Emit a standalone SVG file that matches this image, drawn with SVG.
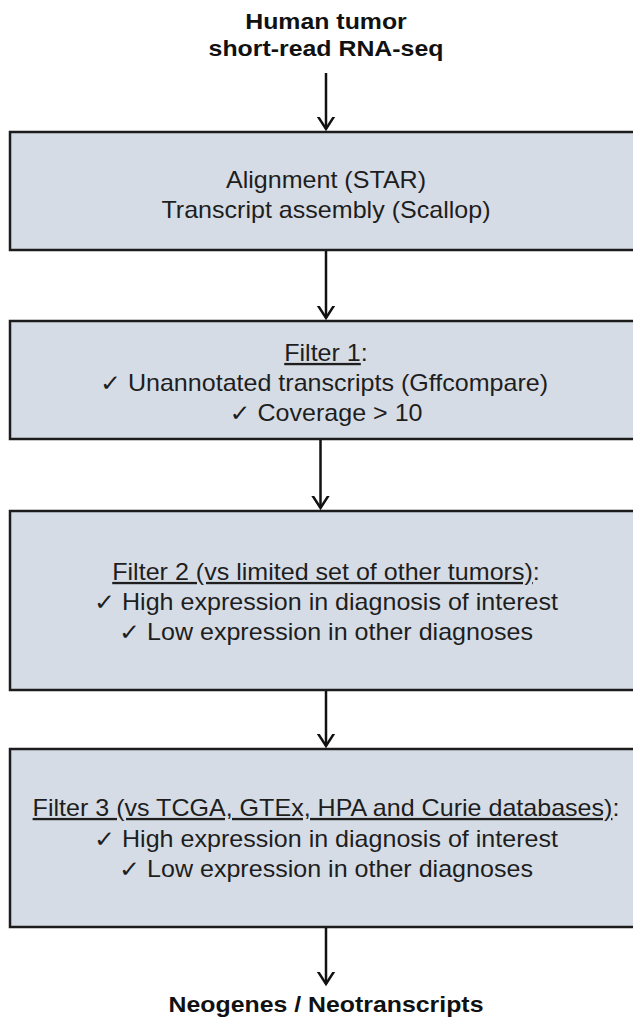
<svg xmlns="http://www.w3.org/2000/svg" width="633" height="1019" viewBox="0 0 633 1019">
<style>
.box{fill:#d6dce5;stroke:#1c1c1c;stroke-width:2.5}
.t{font-family:"Liberation Sans","DejaVu Sans",Arial,sans-serif;font-size:23px;fill:#1e1e1e;text-anchor:middle}
.b{font-family:"Liberation Sans",Arial,sans-serif;font-size:22px;font-weight:bold;fill:#111;text-anchor:middle}
.u{text-decoration:underline}
.c{stroke:#111;stroke-width:2.5;fill:none}
</style>
<defs>
<marker id="ah" markerUnits="userSpaceOnUse" markerWidth="24" markerHeight="24" refX="12" refY="12" orient="auto" viewBox="0 0 24 24">
<path d="M-2,3 L12,12 L-2,21" fill="none" stroke="#111" stroke-width="2.5"/>
</marker>
</defs>
<rect width="633" height="1019" fill="#ffffff"/>
<g id="input">
<text class="b" transform="matrix(1.13 0 0 1 326 29)">Human tumor</text>
<text class="b" transform="matrix(1.13 0 0 1 326 56)">short-read RNA-seq</text>
</g>
<g id="align">
<rect class="box" x="10" y="132" width="640" height="118"/>
<text class="t" transform="matrix(1.09 0 0 1 326 188)">Alignment (STAR)</text>
<text class="t" transform="matrix(1.09 0 0 1 326 218)">Transcript assembly (Scallop)</text>
</g>
<g id="filter1">
<rect class="box" x="10" y="321" width="640" height="118"/>
<text class="t" transform="matrix(1.09 0 0 1 326 361)"><tspan class="u">Filter 1</tspan>:</text>
<text class="t" transform="matrix(1.09 0 0 1 324 391)">✓  Unannotated transcripts (Gffcompare)</text>
<text class="t" transform="matrix(1.09 0 0 1 326 421)">✓ Coverage &gt; 10</text>
</g>
<g id="filter2">
<rect class="box" x="10" y="511" width="640" height="179"/>
<text class="t" transform="matrix(1.09 0 0 1 326 580)"><tspan class="u">Filter 2 (vs limited set of other tumors)</tspan>:</text>
<text class="t" transform="matrix(1.09 0 0 1 326 610)">✓ High expression in diagnosis of interest</text>
<text class="t" transform="matrix(1.09 0 0 1 326 640)">✓ Low expression in other diagnoses</text>
</g>
<g id="filter3">
<rect class="box" x="10" y="749" width="640" height="178"/>
<text class="t" transform="matrix(1.09 0 0 1 326 816)"><tspan class="u">Filter 3 (vs TCGA, GTEx, HPA and Curie databases)</tspan>:</text>
<text class="t" transform="matrix(1.09 0 0 1 326 847)">✓ High expression in diagnosis of interest</text>
<text class="t" transform="matrix(1.09 0 0 1 326 877)">✓ Low expression in other diagnoses</text>
</g>
<g id="output">
<text class="b" transform="matrix(1.13 0 0 1 326 1012)">Neogenes / Neotranscripts</text>
</g>
<g id="connectors">
<line class="c" x1="326" y1="73" x2="326" y2="129" marker-end="url(#ah)"/>
<line class="c" x1="326" y1="251" x2="326" y2="318" marker-end="url(#ah)"/>
<line class="c" x1="320.5" y1="440" x2="320.5" y2="508" marker-end="url(#ah)"/>
<line class="c" x1="326" y1="691" x2="326" y2="746" marker-end="url(#ah)"/>
<line class="c" x1="326" y1="928" x2="326" y2="984" marker-end="url(#ah)"/>
</g>
</svg>
